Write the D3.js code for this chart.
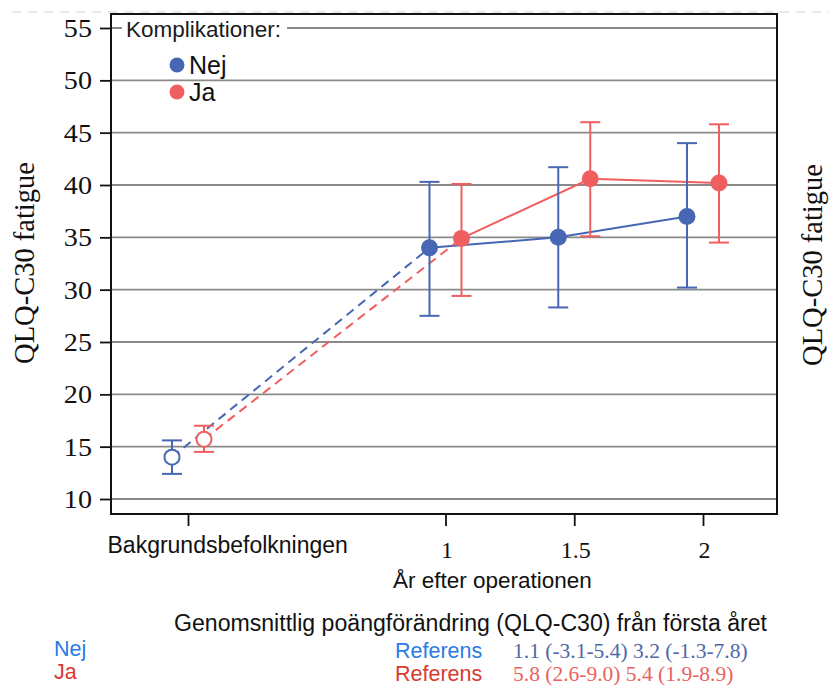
<!DOCTYPE html>
<html><head><meta charset="utf-8">
<script src="https://cdn.jsdelivr.net/npm/d3@7"></script>
<style>
html,body{margin:0;padding:0;background:#fff;}
svg{display:block;}
</style></head>
<body>
<svg id="chart" width="829" height="686"></svg>
<script>
// ---- data ----
const groups = ["Nej", "Ja"];
const xValues = [0, 1, 1.5, 2];
const xTickLabels = ["Bakgrundsbefolkningen", "1", "1.5", "2"];
const yTicks = [10, 15, 20, 25, 30, 35, 40, 45, 50, 55];
const nejMean = [14.0, 34.0, 35.0, 37.0];
const nejLow  = [12.4, 27.5, 28.3, 30.2];
const nejHigh = [15.6, 40.3, 41.7, 44.0];
const jaMean  = [15.7, 34.9, 40.6, 40.2];
const jaLow   = [14.5, 29.4, 35.1, 34.5];
const jaHigh  = [17.0, 40.1, 46.0, 45.8];
const legendTitle = "Komplikationer:";
const yLabel = "QLQ-C30 fatigue";
const xTitle = "År efter operationen";
const bottomTitle = "Genomsnittlig poängförändring (QLQ-C30) från första året";
const refLabel = "Referens";
const nejChange = "1.1 (-3.1-5.4) 3.2 (-1.3-7.8)";
const jaChange  = "5.8 (2.6-9.0) 5.4 (1.9-8.9)";

const colors = {Nej: "#4766b4", Ja: "#f05f5f"};
const textColors = {Nej: "#2b7be3", Ja: "#d83a32"};
const valColors = {Nej: "#4e68a9", Ja: "#e8625f"};

const series = [
  {name: "Nej", mean: nejMean, low: nejLow, high: nejHigh, change: nejChange},
  {name: "Ja",  mean: jaMean,  low: jaLow,  high: jaHigh,  change: jaChange}
];

const SANS = "'Liberation Sans', Arial, sans-serif";
const SERIF = "'Liberation Serif', 'Times New Roman', serif";

const svg = d3.select("#chart");
const frame = {left: 111, right: 777, top: 14, bottom: 514};

const x = d3.scaleLinear().domain([0, 2]).range([188, 703]);
const y = d3.scaleLinear().domain([10, 55]).range([499, 28]);
const dx = d3.scalePoint().domain(groups).range([-16, 16]);

// top dashed line
svg.append("line").attr("x1", 12).attr("x2", 829).attr("y1", 12).attr("y2", 12)
  .attr("stroke", "#d4d4d4").attr("stroke-width", 1).attr("stroke-dasharray", "9,7");

// gridlines
svg.append("g").selectAll("line").data(yTicks).join("line")
  .attr("x1", frame.left).attr("x2", frame.right)
  .attr("y1", d => y(d)).attr("y2", d => y(d))
  .attr("stroke", "#8a8a8a").attr("stroke-width", 1.8);

// y axis
const yAxis = svg.append("g").attr("transform", `translate(${frame.left},0)`)
  .call(d3.axisLeft(y).tickValues(yTicks).tickSize(11).tickPadding(8));
yAxis.select(".domain").remove();
yAxis.selectAll(".tick line").attr("stroke", "#111").attr("stroke-width", 1.8);
yAxis.selectAll(".tick text").attr("font-family", SERIF).attr("font-size", 24.5)
  .attr("fill", "#111").attr("dy", "0.34em")
  .each(function(){
    const t = d3.select(this);
    const xx = +t.attr("x");
    t.attr("x", 0).attr("transform", `translate(${xx},0) scale(1.15,1)`);
  });

// x axis
const xAxis = svg.append("g").attr("transform", `translate(0,${frame.bottom})`)
  .call(d3.axisBottom(x).tickValues(xValues).tickSize(12).tickFormat((d, i) => xTickLabels[i]));
xAxis.select(".domain").remove();
xAxis.selectAll(".tick line").attr("stroke", "#111").attr("stroke-width", 1.8);
xAxis.selectAll(".tick text").attr("fill", "#111").attr("dy", null)
  .each(function(d, i){
    const t = d3.select(this);
    if (i === 0) {
      t.attr("font-family", SANS).attr("font-size", 23).attr("text-anchor", "start")
        .attr("x", 107 - x(0)).attr("y", 553 - frame.bottom);
    } else {
      t.attr("font-family", SERIF).attr("font-size", 24).attr("text-anchor", "middle")
        .attr("x", 1).attr("y", 558 - frame.bottom);
    }
  });

// frame
svg.append("rect").attr("x", frame.left).attr("y", frame.top)
  .attr("width", frame.right - frame.left).attr("height", frame.bottom - frame.top)
  .attr("fill", "none").attr("stroke", "#111").attr("stroke-width", 2);

// legend
const legBg = svg.append("rect").attr("fill", "#fff");
const lt = svg.append("text").attr("x", 126).attr("y", 37)
  .attr("font-family", SANS).attr("font-size", 22.5).attr("fill", "#1a1a1a").text(legendTitle);
const bb = lt.node().getBBox();
legBg.attr("x", bb.x - 4).attr("y", y(55) - 3)
  .attr("width", bb.width + 10).attr("height", 6);
const leg = svg.append("g").selectAll("g").data(groups).join("g")
  .attr("transform", (d, i) => `translate(177,${65 + i * 27})`);
leg.append("circle").attr("r", 7.5).attr("fill", d => colors[d]);
leg.append("text").attr("x", 12).attr("y", 9).attr("font-family", SANS).attr("font-size", 25)
  .attr("fill", "#111").text(d => d);

// dashed connectors baseline -> year 1, and solid lines
const plot = svg.append("g");
series.forEach(s => {
  plot.append("line")
    .attr("x1", x(xValues[0]) + dx(s.name)).attr("y1", y(s.mean[0]))
    .attr("x2", x(xValues[1]) + dx(s.name)).attr("y2", y(s.mean[1]))
    .attr("stroke", colors[s.name]).attr("stroke-width", 2).attr("stroke-dasharray", "9,6");
  const line = d3.line().x((d, i) => x(xValues[i + 1]) + dx(s.name)).y(d => y(d));
  plot.append("path").datum(s.mean.slice(1)).attr("d", line)
    .attr("fill", "none").attr("stroke", colors[s.name]).attr("stroke-width", 2);
});

// error bars
series.forEach(s => {
  const g = plot.append("g").attr("stroke", colors[s.name]).attr("stroke-width", 2);
  xValues.forEach((xv, i) => {
    const cx = x(xv) + dx(s.name);
    g.append("line").attr("x1", cx).attr("x2", cx).attr("y1", y(s.low[i])).attr("y2", y(s.high[i]));
    g.append("line").attr("x1", cx - 10).attr("x2", cx + 10).attr("y1", y(s.low[i])).attr("y2", y(s.low[i]));
    g.append("line").attr("x1", cx - 10).attr("x2", cx + 10).attr("y1", y(s.high[i])).attr("y2", y(s.high[i]));
  });
});

// points
series.forEach(s => {
  plot.append("g").selectAll("circle").data(s.mean).join("circle")
    .attr("cx", (d, i) => x(xValues[i]) + dx(s.name))
    .attr("cy", d => y(d))
    .attr("r", (d, i) => i === 0 ? 7.5 : 8.5)
    .attr("fill", (d, i) => i === 0 ? "#fff" : colors[s.name])
    .attr("stroke", colors[s.name])
    .attr("stroke-width", (d, i) => i === 0 ? 2 : 0);
});

// y labels
[[34, 263], [822, 265]].forEach(p => {
  svg.append("text").attr("transform", `translate(${p[0]},${p[1]}) rotate(-90)`)
    .attr("text-anchor", "middle").attr("font-family", SERIF).attr("font-size", 28.5)
    .attr("fill", "#111").text(yLabel);
});

// x title
svg.append("text").attr("x", 393).attr("y", 588).attr("font-family", SANS)
  .attr("font-size", 22.5).attr("fill", "#111").text(xTitle);

// bottom block
svg.append("text").attr("x", 174).attr("y", 631).attr("font-family", SANS)
  .attr("font-size", 23.1).attr("fill", "#111").text(bottomTitle);
series.forEach((s, i) => {
  const yy = 658 + i * 23;
  svg.append("text").attr("x", 54).attr("y", yy - 2).attr("font-family", SANS)
    .attr("font-size", 21.5).attr("fill", textColors[s.name]).text(s.name);
  svg.append("text").attr("x", 395).attr("y", yy).attr("font-family", SANS)
    .attr("font-size", 21.5).attr("fill", textColors[s.name]).text(refLabel);
  svg.append("text").attr("x", 513).attr("y", yy).attr("font-family", SERIF)
    .attr("font-size", 21.5).attr("fill", valColors[s.name]).text(s.change);
});
</script>
</body></html>
